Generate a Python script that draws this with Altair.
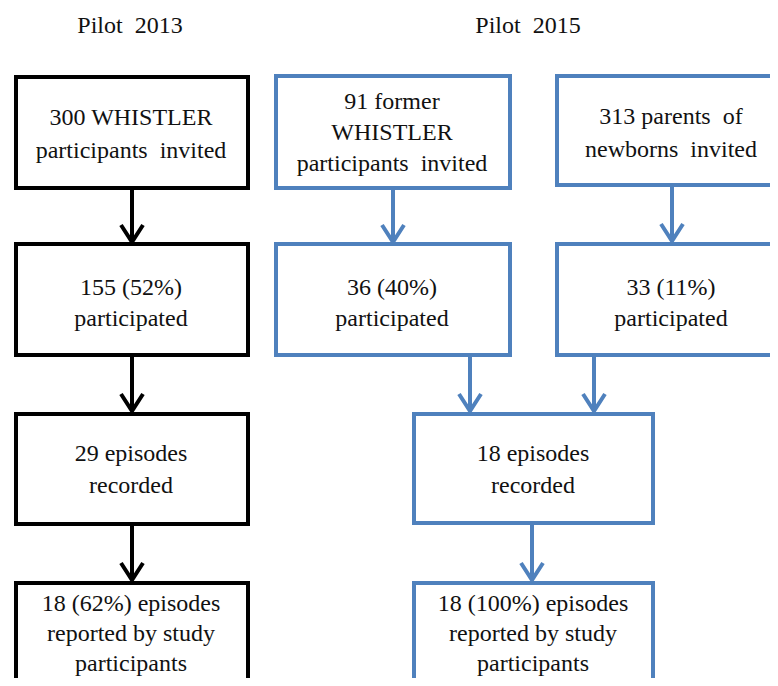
import altair as alt
import pandas as pd

# ---- content ----
titles = ["Pilot\u00a0 2013", "Pilot\u00a0 2015"]
title_x = [130, 528]
title_y = [25, 25]

box_lines = [
    ["300 WHISTLER", "participants\u00a0 invited"],
    ["91 former", "WHISTLER", "participants\u00a0 invited"],
    ["313 parents\u00a0 of", "newborns\u00a0 invited"],
    ["155 (52%)", "participated"],
    ["36 (40%)", "participated"],
    ["33 (11%)", "participated"],
    ["29 episodes", "recorded"],
    ["18 episodes", "recorded"],
    ["18 (62%) episodes", "reported by study", "participants"],
    ["18 (100%) episodes", "reported by study", "participants"],
]
box_colors = ["#000000", "#4F81BD", "#4F81BD", "#000000", "#4F81BD", "#4F81BD",
              "#000000", "#4F81BD", "#000000", "#4F81BD"]
# layout (reference pixel coordinates)
box_x0 = [16, 276, 557, 16, 276, 557, 16, 414, 16, 414]
box_x1 = [248, 510, 800, 248, 510, 800, 248, 653, 248, 653]
box_y0 = [77, 76, 76, 244, 244, 244, 414, 414, 583, 583]
box_y1 = [188, 188, 185, 355, 355, 355, 524, 523, 720, 720]
text_cx = [131, 392, 671, 131, 392, 671, 131, 533, 131, 533]
text_cy = [133, 132, 132, 302, 302, 302, 469, 469, 633, 633]
line_gap = [33, 31, 33, 31, 31, 31, 32, 32, 30, 30]

arrow_x = [132, 132, 132, 393, 672, 470, 594, 532]
arrow_y0 = [188, 355, 524, 188, 185, 355, 355, 523]
arrow_tip = [242, 411, 580, 242, 241, 411, 411, 580]
arrow_colors = ["#000000", "#000000", "#000000", "#4F81BD", "#4F81BD",
                "#4F81BD", "#4F81BD", "#4F81BD"]

# ---- tables ----
boxes = pd.DataFrame({"x0": box_x0, "x1": box_x1, "y0": box_y0, "y1": box_y1,
                      "c": box_colors})

rows = []
for i, lines in enumerate(box_lines):
    n = len(lines)
    for j, t in enumerate(lines):
        rows.append({"x": text_cx[i], "y": text_cy[i] + (j - (n - 1) / 2) * line_gap[i] + 1,
                     "t": t})
for t, x, y in zip(titles, title_x, title_y):
    rows.append({"x": x, "y": y + 1, "t": t})
texts = pd.DataFrame(rows)

shafts = pd.DataFrame({"x": arrow_x, "y0": arrow_y0, "y1": arrow_tip, "c": arrow_colors})
heads = []
for k, (x, tip, c) in enumerate(zip(arrow_x, arrow_tip, arrow_colors)):
    heads.append({"id": k, "o": 0, "x": x - 11, "y": tip - 17, "c": c})
    heads.append({"id": k, "o": 1, "x": x, "y": tip, "c": c})
    heads.append({"id": k, "o": 2, "x": x + 11, "y": tip - 17, "c": c})
heads = pd.DataFrame(heads)

X = alt.Scale(domain=[8, 770], nice=False, zero=False)
Y = alt.Scale(domain=[8, 678], nice=False, zero=False, reverse=True)

box_layer = alt.Chart(boxes).mark_rect(fill="white", strokeWidth=4, clip=True).encode(
    x=alt.X("x0:Q", scale=X, axis=None), x2="x1:Q",
    y=alt.Y("y0:Q", scale=Y, axis=None), y2="y1:Q",
    stroke=alt.Color("c:N", scale=None),
)
shaft_layer = alt.Chart(shafts).mark_rule(strokeWidth=4, clip=True).encode(
    x=alt.X("x:Q", scale=X), y=alt.Y("y0:Q", scale=Y), y2="y1:Q",
    color=alt.Color("c:N", scale=None),
)
head_layer = alt.Chart(heads).mark_line(strokeWidth=4, strokeJoin="miter", clip=True).encode(
    x=alt.X("x:Q", scale=X), y=alt.Y("y:Q", scale=Y),
    detail="id:N", order="o:Q",
    color=alt.Color("c:N", scale=None),
)
text_layer = alt.Chart(texts).mark_text(
    font="Liberation Serif", fontSize=24, color="#111111", align="center", baseline="middle"
).encode(
    x=alt.X("x:Q", scale=X), y=alt.Y("y:Q", scale=Y), text="t:N",
)

chart = alt.layer(box_layer, shaft_layer, head_layer, text_layer).properties(
    width=762, height=670, padding=0,
    autosize=alt.AutoSizeParams(type="none"),
).configure(font="Liberation Serif").configure_view(stroke=None)

chart.save("out.html", embed_options={"renderer": "svg", "actions": False})
